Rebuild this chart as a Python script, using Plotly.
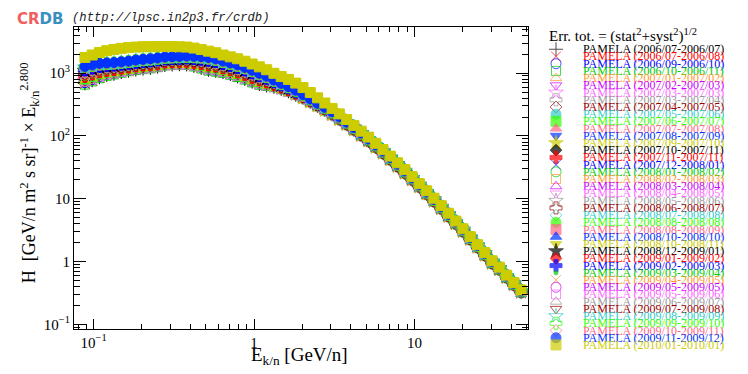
import plotly.graph_objects as go

# ---- data ----
energy = [0.0883, 0.0980, 0.1088, 0.1208, 0.1340, 0.1488, 0.1651, 0.1833, 0.2034, 0.2258,
          0.2506, 0.2781, 0.3087, 0.3426, 0.3803, 0.4221, 0.4685, 0.5200, 0.5771, 0.6405,
          0.7112, 0.7894, 0.8762, 0.9725, 1.079, 1.198, 1.330, 1.476, 1.638, 1.819,
          2.018, 2.240, 2.487, 2.760, 3.063, 3.400, 3.774, 4.189, 4.650, 5.161,
          5.728, 6.358, 7.058, 7.834, 8.695, 9.650, 10.71, 11.89, 13.20, 14.65,
          16.26, 18.05, 20.03, 22.23, 24.68, 27.39, 30.40, 33.74, 37.45, 41.56, 46.13]

# above ~2 GeV/n the periods pile up in three bunches
hi_e_lower = [407, 352, 303, 260, 221, 185, 154, 126, 103, 83.8, 66.8, 53.7, 42.3, 33.1, 25.8, 20.2,
              15.6, 12.0, 9.22, 7.02, 5.30, 4.04, 3.04, 2.28, 1.71, 1.28, 0.950, 0.756, 0.565, 0.432, 0.329]
hi_e_middle = [430, 370, 317, 273, 232, 194, 160, 131, 107, 86.6, 69.3, 55.5, 43.7, 34.2, 26.8, 20.8,
               16.1, 12.4, 9.48, 7.22, 5.46, 4.16, 3.12, 2.34, 1.76, 1.31, 0.973, 0.772, 0.577, 0.441, 0.335]
hi_e_upper = [455, 389, 332, 286, 243, 202, 166, 136, 111, 89.6, 72.0, 57.5, 45.2, 35.4, 27.8, 21.5,
              16.7, 12.8, 9.76, 7.44, 5.63, 4.29, 3.21, 2.41, 1.80, 1.35, 0.998, 0.789, 0.590, 0.451, 0.342]

p2006_07_2006_07 = [687, 769, 859, 935, 978, 1040, 1095, 1141, 1180, 1214, 1267, 1345, 1371, 1388, 1376, 1306, 1217, 1130, 1088, 1037, 968, 888, 810, 732, 671, 636, 605, 562, 513, 454] + hi_e_lower
p2006_07_2006_08 = [672, 754, 844, 922, 965, 1027, 1083, 1128, 1168, 1202, 1255, 1333, 1359, 1376, 1363, 1291, 1201, 1113, 1072, 1024, 956, 875, 799, 722, 663, 629, 601, 558, 511, 452] + hi_e_lower
p2006_09_2006_10 = [703, 785, 874, 949, 991, 1052, 1107, 1153, 1193, 1227, 1280, 1357, 1383, 1400, 1389, 1320, 1233, 1146, 1103, 1051, 981, 900, 822, 742, 680, 642, 610, 565, 516, 456] + hi_e_lower
p2006_10_2006_11 = [656, 738, 829, 908, 952, 1015, 1071, 1116, 1155, 1189, 1242, 1321, 1347, 1364, 1350, 1277, 1185, 1096, 1056, 1010, 943, 863, 788, 712, 654, 622, 596, 555, 508, 450] + hi_e_lower
p2007_01_2007_02 = [718, 800, 889, 962, 1004, 1065, 1119, 1166, 1205, 1239, 1292, 1369, 1395, 1412, 1402, 1335, 1249, 1163, 1119, 1064, 994, 912, 833, 752, 688, 649, 614, 568, 518, 458] + hi_e_lower
p2007_02_2007_03 = [734, 816, 904, 976, 1017, 1077, 1131, 1178, 1218, 1252, 1305, 1381, 1407, 1424, 1415, 1349, 1265, 1180, 1135, 1078, 1007, 925, 844, 762, 697, 656, 619, 572, 521, 461] + hi_e_lower
p2007_03_2007_03 = [749, 831, 919, 990, 1030, 1089, 1143, 1190, 1230, 1264, 1317, 1393, 1419, 1436, 1428, 1363, 1281, 1197, 1151, 1092, 1019, 937, 855, 772, 705, 663, 623, 575, 524, 463] + hi_e_lower
p2007_03_2007_04 = [765, 847, 934, 1003, 1043, 1102, 1155, 1203, 1243, 1277, 1330, 1405, 1431, 1448, 1441, 1378, 1297, 1214, 1167, 1105, 1032, 949, 866, 782, 714, 670, 628, 578, 526, 465] + hi_e_lower
p2007_04_2007_05 = [780, 862, 949, 1017, 1056, 1114, 1167, 1215, 1255, 1289, 1342, 1417, 1443, 1460, 1454, 1392, 1313, 1230, 1182, 1119, 1045, 961, 878, 792, 722, 676, 632, 581, 529, 467] + hi_e_lower
p2007_05_2007_06 = [796, 878, 964, 1030, 1069, 1127, 1179, 1228, 1268, 1302, 1355, 1429, 1455, 1472, 1467, 1407, 1329, 1247, 1198, 1132, 1057, 974, 889, 802, 731, 683, 637, 585, 531, 469] + hi_e_lower
p2007_06_2007_07 = [811, 893, 979, 1044, 1082, 1139, 1191, 1240, 1280, 1314, 1367, 1441, 1467, 1484, 1480, 1421, 1345, 1264, 1214, 1146, 1070, 986, 900, 812, 739, 690, 641, 588, 534, 471] + hi_e_lower
p2007_07_2007_08 = [827, 909, 994, 1058, 1095, 1151, 1203, 1252, 1293, 1327, 1380, 1453, 1479, 1496, 1493, 1435, 1361, 1281, 1230, 1160, 1083, 998, 911, 822, 748, 697, 646, 591, 537, 473] + hi_e_lower
p2007_08_2007_09 = [842, 924, 1009, 1071, 1108, 1164, 1215, 1265, 1305, 1339, 1392, 1465, 1491, 1508, 1506, 1450, 1377, 1298, 1246, 1173, 1095, 1011, 922, 832, 756, 704, 650, 595, 539, 475] + hi_e_lower
p2007_09_2007_10 = [858, 940, 1024, 1085, 1121, 1176, 1227, 1277, 1318, 1352, 1405, 1477, 1503, 1520, 1519, 1464, 1393, 1314, 1261, 1187, 1108, 1023, 934, 842, 765, 710, 655, 598, 542, 477] + hi_e_lower
p2007_10_2007_11 = [873, 955, 1039, 1098, 1134, 1189, 1239, 1290, 1330, 1364, 1417, 1489, 1515, 1532, 1532, 1479, 1409, 1331, 1277, 1200, 1121, 1035, 945, 852, 773, 717, 659, 601, 544, 479] + hi_e_middle
p2007_11_2007_11 = [889, 971, 1054, 1112, 1147, 1201, 1251, 1302, 1343, 1377, 1430, 1501, 1527, 1544, 1545, 1493, 1425, 1348, 1293, 1214, 1134, 1048, 956, 862, 782, 724, 664, 605, 547, 482] + hi_e_middle
p2007_12_2008_01 = [904, 986, 1069, 1126, 1160, 1213, 1263, 1314, 1355, 1389, 1442, 1513, 1539, 1556, 1558, 1507, 1441, 1365, 1309, 1228, 1146, 1060, 967, 872, 790, 731, 668, 608, 550, 484] + hi_e_middle
p2008_01_2008_02 = [920, 1002, 1084, 1139, 1173, 1226, 1275, 1327, 1368, 1402, 1455, 1525, 1551, 1568, 1571, 1522, 1457, 1382, 1325, 1241, 1159, 1072, 978, 882, 799, 738, 673, 611, 552, 486] + hi_e_middle
p2008_02_2008_03 = [935, 1017, 1099, 1153, 1186, 1238, 1287, 1339, 1380, 1414, 1467, 1537, 1563, 1580, 1584, 1536, 1473, 1398, 1340, 1255, 1172, 1084, 990, 892, 807, 744, 677, 614, 555, 488] + hi_e_middle
p2008_03_2008_04 = [951, 1033, 1114, 1166, 1199, 1251, 1299, 1352, 1393, 1427, 1480, 1549, 1575, 1592, 1597, 1551, 1489, 1415, 1356, 1268, 1184, 1097, 1001, 902, 816, 751, 682, 618, 557, 490] + hi_e_middle
p2008_04_2008_05 = [966, 1048, 1129, 1180, 1212, 1263, 1311, 1364, 1405, 1439, 1492, 1561, 1587, 1604, 1610, 1565, 1505, 1432, 1372, 1282, 1197, 1109, 1012, 912, 824, 758, 686, 621, 560, 492] + hi_e_middle
p2008_05_2008_06 = [982, 1064, 1144, 1194, 1225, 1275, 1323, 1376, 1418, 1452, 1505, 1573, 1599, 1616, 1623, 1579, 1521, 1449, 1388, 1296, 1210, 1121, 1023, 922, 833, 765, 691, 624, 563, 494] + hi_e_middle
p2008_06_2008_07 = [997, 1079, 1159, 1207, 1238, 1288, 1335, 1389, 1430, 1464, 1517, 1585, 1611, 1628, 1636, 1594, 1537, 1466, 1404, 1309, 1222, 1134, 1034, 932, 841, 772, 695, 628, 565, 496] + hi_e_middle
p2008_07_2008_08 = [1013, 1095, 1174, 1221, 1251, 1300, 1347, 1401, 1443, 1477, 1530, 1597, 1623, 1640, 1649, 1608, 1553, 1482, 1419, 1323, 1235, 1146, 1046, 942, 850, 778, 700, 631, 568, 498] + hi_e_middle
p2008_08_2008_08 = [1028, 1110, 1189, 1234, 1264, 1313, 1359, 1414, 1455, 1489, 1542, 1609, 1635, 1652, 1662, 1623, 1569, 1499, 1435, 1336, 1248, 1158, 1057, 952, 858, 785, 704, 634, 570, 500] + hi_e_middle
p2008_08_2008_09 = [1044, 1126, 1204, 1248, 1277, 1325, 1371, 1426, 1468, 1502, 1555, 1621, 1647, 1664, 1675, 1637, 1585, 1516, 1451, 1350, 1261, 1171, 1068, 962, 867, 792, 709, 638, 573, 503] + hi_e_middle
p2008_10_2008_10 = [1059, 1141, 1219, 1262, 1290, 1337, 1383, 1438, 1480, 1514, 1567, 1633, 1659, 1676, 1688, 1651, 1601, 1533, 1467, 1364, 1273, 1183, 1079, 972, 875, 799, 713, 641, 576, 505] + hi_e_middle
p2008_10_2008_11 = [1075, 1157, 1234, 1275, 1303, 1350, 1395, 1451, 1493, 1527, 1580, 1645, 1671, 1688, 1701, 1666, 1617, 1550, 1483, 1377, 1286, 1195, 1090, 982, 884, 806, 718, 644, 578, 507] + hi_e_middle
p2008_12_2009_01 = [1090, 1172, 1249, 1289, 1316, 1362, 1407, 1463, 1505, 1539, 1592, 1657, 1683, 1700, 1714, 1680, 1633, 1566, 1498, 1391, 1299, 1207, 1102, 992, 892, 812, 722, 647, 581, 509] + hi_e_upper
p2009_01_2009_02 = [1106, 1188, 1264, 1302, 1329, 1375, 1419, 1476, 1518, 1552, 1605, 1669, 1695, 1712, 1727, 1695, 1649, 1583, 1514, 1404, 1311, 1220, 1113, 1002, 901, 819, 727, 651, 583, 511] + hi_e_upper
p2009_02_2009_03 = [1121, 1203, 1279, 1316, 1342, 1387, 1431, 1488, 1530, 1564, 1617, 1681, 1707, 1724, 1740, 1709, 1665, 1600, 1530, 1418, 1324, 1232, 1124, 1012, 909, 826, 731, 654, 586, 513] + hi_e_upper
p2009_03_2009_04 = [1137, 1219, 1294, 1330, 1355, 1399, 1443, 1500, 1543, 1577, 1630, 1693, 1719, 1736, 1753, 1723, 1681, 1617, 1546, 1432, 1337, 1244, 1135, 1022, 918, 833, 736, 657, 589, 515] + hi_e_upper
p2009_04_2009_05 = [1152, 1234, 1309, 1343, 1368, 1412, 1455, 1513, 1555, 1589, 1642, 1705, 1731, 1748, 1766, 1738, 1697, 1634, 1562, 1445, 1349, 1257, 1146, 1032, 926, 840, 740, 661, 591, 517] + hi_e_upper
p2009_05_2009_05 = [1168, 1250, 1324, 1357, 1381, 1424, 1467, 1525, 1568, 1602, 1655, 1717, 1743, 1760, 1779, 1752, 1713, 1650, 1577, 1459, 1362, 1269, 1158, 1042, 935, 846, 745, 664, 594, 519] + hi_e_upper
p2009_05_2009_06 = [1183, 1265, 1339, 1370, 1394, 1437, 1479, 1538, 1580, 1614, 1667, 1729, 1755, 1772, 1792, 1767, 1729, 1667, 1593, 1472, 1375, 1281, 1169, 1052, 943, 853, 749, 667, 596, 521] + hi_e_upper
p2009_06_2009_07 = [1199, 1281, 1354, 1384, 1407, 1449, 1491, 1550, 1593, 1627, 1680, 1741, 1767, 1784, 1805, 1781, 1745, 1684, 1609, 1486, 1388, 1294, 1180, 1062, 952, 860, 754, 671, 599, 524] + hi_e_upper
p2009_07_2009_08 = [1214, 1296, 1369, 1398, 1420, 1461, 1503, 1562, 1605, 1639, 1692, 1753, 1779, 1796, 1818, 1795, 1761, 1701, 1625, 1500, 1400, 1306, 1191, 1072, 960, 867, 758, 674, 602, 526] + hi_e_upper
p2009_08_2009_09 = [1230, 1312, 1384, 1411, 1433, 1474, 1515, 1575, 1618, 1652, 1705, 1765, 1791, 1808, 1831, 1810, 1777, 1718, 1641, 1513, 1413, 1318, 1202, 1082, 969, 874, 763, 677, 604, 528] + hi_e_upper
p2009_09_2009_10 = [1245, 1327, 1399, 1425, 1446, 1486, 1527, 1587, 1630, 1664, 1717, 1777, 1803, 1820, 1844, 1824, 1793, 1734, 1656, 1527, 1426, 1330, 1214, 1092, 977, 880, 767, 680, 607, 530] + hi_e_upper
p2009_10_2009_11 = [1261, 1343, 1414, 1438, 1459, 1499, 1539, 1600, 1643, 1677, 1730, 1789, 1815, 1832, 1857, 1839, 1809, 1751, 1672, 1540, 1438, 1343, 1225, 1102, 986, 887, 772, 684, 609, 532] + hi_e_upper
p2009_11_2009_12 = [1276, 1358, 1429, 1452, 1472, 1511, 1551, 1612, 1655, 1689, 1742, 1801, 1827, 1844, 1870, 1853, 1825, 1768, 1688, 1554, 1451, 1355, 1236, 1112, 994, 894, 776, 687, 612, 534] + hi_e_upper
p2010_01_2010_01 = [1774, 1942, 2126, 2270, 2379, 2476, 2549, 2596, 2624, 2642, 2642, 2642, 2642, 2624, 2596, 2503, 2370, 2237, 2111, 1942,
                    1813, 1692, 1545, 1396, 1257, 1131, 993, 881, 793, 693, 589, 490, 404, 334, 274, 224, 182, 147, 119, 95.7,
                    76.2, 60.6, 47.7, 37.4, 29.1, 22.5, 17.4, 13.4, 10.2, 7.76, 5.87, 4.42, 3.32, 2.49, 1.86, 1.39, 1.03, 0.813, 0.608, 0.464, 0.353]

periods = ["2006/07-2006/07", "2006/07-2006/08", "2006/09-2006/10", "2006/10-2006/11", "2007/01-2007/02",
           "2007/02-2007/03", "2007/03-2007/03", "2007/03-2007/04", "2007/04-2007/05", "2007/05-2007/06",
           "2007/06-2007/07", "2007/07-2007/08", "2007/08-2007/09", "2007/09-2007/10", "2007/10-2007/11",
           "2007/11-2007/11", "2007/12-2008/01", "2008/01-2008/02", "2008/02-2008/03", "2008/03-2008/04",
           "2008/04-2008/05", "2008/05-2008/06", "2008/06-2008/07", "2008/07-2008/08", "2008/08-2008/08",
           "2008/08-2008/09", "2008/10-2008/10", "2008/10-2008/11", "2008/12-2009/01", "2009/01-2009/02",
           "2009/02-2009/03", "2009/03-2009/04", "2009/04-2009/05", "2009/05-2009/05", "2009/05-2009/06",
           "2009/06-2009/07", "2009/07-2009/08", "2009/08-2009/09", "2009/09-2009/10", "2009/10-2009/11",
           "2009/11-2009/12", "2010/01-2010/01"]

fluxes = [p2006_07_2006_07, p2006_07_2006_08, p2006_09_2006_10, p2006_10_2006_11, p2007_01_2007_02,
          p2007_02_2007_03, p2007_03_2007_03, p2007_03_2007_04, p2007_04_2007_05, p2007_05_2007_06,
          p2007_06_2007_07, p2007_07_2007_08, p2007_08_2007_09, p2007_09_2007_10, p2007_10_2007_11,
          p2007_11_2007_11, p2007_12_2008_01, p2008_01_2008_02, p2008_02_2008_03, p2008_03_2008_04,
          p2008_04_2008_05, p2008_05_2008_06, p2008_06_2008_07, p2008_07_2008_08, p2008_08_2008_08,
          p2008_08_2008_09, p2008_10_2008_10, p2008_10_2008_11, p2008_12_2009_01, p2009_01_2009_02,
          p2009_02_2009_03, p2009_03_2009_04, p2009_04_2009_05, p2009_05_2009_05, p2009_05_2009_06,
          p2009_06_2009_07, p2009_07_2009_08, p2009_08_2009_09, p2009_09_2009_10, p2009_10_2009_11,
          p2009_11_2009_12, p2010_01_2010_01]

# ---- ROOT-like styles ----
palette = ["#000000", "#ff0000", "#0000ff", "#00cc00", "#ff9933", "#cc00ff", "#ff66ff",
           "#999999", "#990000", "#33cccc", "#33ff00", "#ff6688", "#0033ff", "#cccc00"]
colors = [palette[i % 14] for i in range(len(periods))]
symbols = ["cross-thin", "x-thin", "circle-open", "square-open", "triangle-up-open", "triangle-down-open",
           "star-open", "cross-open", "diamond-open", "circle", "square", "triangle-up", "triangle-down",
           "star", "diamond", "cross",
           "x-thin", "circle-open", "square-open", "triangle-up-open", "triangle-down-open",
           "star-open", "cross-open", "diamond-open", "circle", "square", "triangle-up", "triangle-down",
           "star", "diamond", "cross",
           "circle", "x-thin", "circle-open", "square-open", "triangle-up-open", "triangle-down-open",
           "star-open", "cross-open", "diamond-open", "circle", "square"]
sizes = {"star": 11, "star-open": 11, "square": 10, "square-open": 9, "diamond": 9, "diamond-open": 9}
sizes_list = [sizes.get(s, 10) for s in symbols]
sizes_list[31] = 4  # the little dot

W, H = 748, 374
X0, X1, Y0, Y1 = 66, 520, 19, 324  # frame in pixels
SERIF = "Liberation Serif"

fig = go.Figure()
for name, vals, col, sym, sz in zip(periods, fluxes, colors, symbols, sizes_list):
    fig.add_trace(go.Scatter(
        x=energy, y=vals, mode="markers", name="PAMELA (" + name + ")",
        marker=dict(symbol=sym, size=sz, color=col, line=dict(color=col, width=1)),
        hoverinfo="skip"))

# legend drawn by hand (ROOT legend rows overlap)
n = len(periods)
leg_y = [41.7 + 7.29 * k for k in range(n)]
fig.add_trace(go.Scatter(
    x=[548] * n, y=leg_y, xaxis="x2", yaxis="y2", mode="markers",
    marker=dict(symbol=symbols, size=sizes_list, color=colors,
                line=dict(color=colors, width=1)),
    hoverinfo="skip"))

ann = []
for k, name in enumerate(periods):
    ann.append(dict(text="PAMELA (" + name + ")", x=573 / W, y=1 - leg_y[k] / H, xref="paper", yref="paper",
                    xanchor="left", yanchor="middle", showarrow=False,
                    font=dict(family=SERIF, size=12, color=colors[k])))
ann.append(dict(text="Err. tot. = (stat<sup>2</sup>+syst<sup>2</sup>)<sup>1/2</sup>", x=539 / W, y=1 - 28 / H,
                xref="paper", yref="paper", xanchor="left", yanchor="middle", showarrow=False,
                font=dict(family=SERIF, size=15, color="black")))
ann.append(dict(text="E<sub>k/n</sub> [GeV/n]", x=291 / W, y=1 - 352 / H, xref="paper", yref="paper",
                xanchor="center", yanchor="middle", showarrow=False,
                font=dict(family=SERIF, size=19, color="black")))
ann.append(dict(text="H  [GeV/n m<sup>2</sup> s sr]<sup>-1</sup> × E<sub>k/n</sub><sup>2.800</sup>",
                x=21 / W, y=1 - 167 / H, xref="paper", yref="paper", textangle=-90,
                xanchor="center", yanchor="middle", showarrow=False,
                font=dict(family=SERIF, size=18, color="black")))
ann.append(dict(text="<b><span style='color:#f06060'>CR</span><span style='color:#3a8fc0'>DB</span></b>",
                x=7 / W, y=1 - 11 / H, xref="paper", yref="paper", xanchor="left", yanchor="middle",
                showarrow=False, font=dict(family="DejaVu Sans", size=15)))
ann.append(dict(text="<i>(http://lpsc.in2p3.fr/crdb)</i>", x=62 / W, y=1 - 10 / H, xref="paper", yref="paper",
                xanchor="left", yanchor="middle", showarrow=False,
                font=dict(family="Liberation Mono", size=12.2, color="#222222")))

axis_common = dict(type="log", showline=True, linecolor="black", linewidth=1, mirror="allticks",
                   ticks="inside", tickcolor="black", tickwidth=1, showgrid=False, zeroline=False,
                   tickfont=dict(family=SERIF, size=15, color="black"))
x_minor = [0.08, 0.09, 0.2, 0.3, 0.4, 0.5, 0.6, 0.7, 0.8, 0.9, 2, 3, 4, 5, 6, 7, 8, 9, 20, 30, 40, 50]
y_minor = [0.09] + [m * 10 ** e for e in (-1, 0, 1, 2) for m in range(2, 10)] + [2000, 3000, 4000, 5000]

fig.update_layout(
    width=W, height=H, margin=dict(l=0, r=0, t=0, b=0),
    paper_bgcolor="white", plot_bgcolor="rgba(0,0,0,0)", showlegend=False,
    xaxis=dict(axis_common, domain=[X0 / W, X1 / W], range=[-1.122, 1.707], anchor="y",
               tickvals=[0.1, 1, 10], ticktext=["10<sup>−1</sup>", "1", "10"], ticklen=10,
               minor=dict(tickvals=x_minor, ticks="inside", ticklen=5, tickcolor="black", showgrid=False)),
    yaxis=dict(axis_common, domain=[1 - Y1 / H, 1 - Y0 / H], range=[-1.066, 3.737], anchor="x",
               tickvals=[0.1, 1, 10, 100, 1000],
               ticktext=["10<sup>−1</sup>", "1", "10", "10<sup>2</sup>", "10<sup>3</sup>"], ticklen=12,
               minor=dict(tickvals=y_minor, ticks="inside", ticklen=6, tickcolor="black", showgrid=False)),
    xaxis2=dict(domain=[0, 1], range=[0, W], visible=False, anchor="y2"),
    yaxis2=dict(domain=[0, 1], range=[H, 0], visible=False, anchor="x2"),
    annotations=ann,
)

fig.write_html("out.html")
